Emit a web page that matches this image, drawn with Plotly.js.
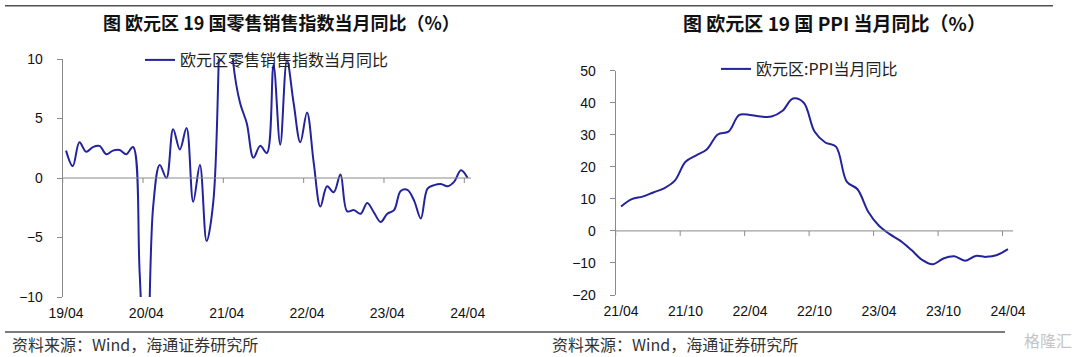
<!DOCTYPE html>
<html><head><meta charset="utf-8">
<script src="https://cdn.plot.ly/plotly-3.0.1.min.js"></script>
<style>html,body{margin:0;padding:0;background:#fff;}#chart{width:1080px;height:357px;}</style>
</head><body><div id="chart"></div>
<script>
// ---------- data ----------
const retailMonths = ['19/04','19/05','19/06','19/07','19/08','19/09','19/10','19/11','19/12',
  '20/01','20/02','20/03','20/04','20/05','20/06','20/07','20/08','20/09','20/10','20/11','20/12',
  '21/01','21/02','21/03','21/04','21/05','21/06','21/07','21/08','21/09','21/10','21/11','21/12',
  '22/01','22/02','22/03','22/04','22/05','22/06','22/07','22/08','22/09','22/10','22/11','22/12',
  '23/01','23/02','23/03','23/04','23/05','23/06','23/07','23/08','23/09','23/10','23/11','23/12',
  '24/01','24/02','24/03','24/04'];
const retailYoY = [2.3,1.0,3.0,2.2,2.6,2.7,2.0,2.3,2.35,
  2.0,2.6,-8.0,-19.6,-2.5,1.1,0.0,4.1,2.4,4.2,-2.0,1.1,
  -5.3,-2.0,13.0,24.0,9.6,6.3,4.6,1.7,2.7,2.1,9.5,2.8,
  9.9,6.3,3.0,5.5,1.3,-2.4,-0.7,-1.2,0.3,-2.8,-2.7,-3.0,
  -2.1,-2.9,-3.7,-3.0,-2.7,-1.1,-1.0,-1.9,-3.4,-0.9,-0.6,-0.5,
  -0.7,-0.3,0.65,0.0];
const retailTickLabels = ['19/04','20/04','21/04','22/04','23/04','24/04'];
const retailName = '欧元区零售销售指数当月同比';

const ppiMonths = ['21/04','21/05','21/06','21/07','21/08','21/09','21/10','21/11','21/12',
  '22/01','22/02','22/03','22/04','22/05','22/06','22/07','22/08','22/09','22/10','22/11','22/12',
  '23/01','23/02','23/03','23/04','23/05','23/06','23/07','23/08','23/09','23/10','23/11','23/12',
  '24/01','24/02','24/03','24/04'];
const ppiYoY = [7.6,9.9,10.7,12.0,13.3,15.7,21.6,23.6,25.5,
  30.1,31.0,36.2,36.2,35.7,35.7,37.4,41.3,40.0,31.0,27.6,26.3,
  15.4,13.0,6.0,1.6,-1.0,-3.1,-5.9,-9.0,-10.4,-8.6,-7.9,-9.3,
  -7.8,-8.1,-7.5,-5.7];
const ppiTickLabels = ['21/04','21/10','22/04','22/10','23/04','23/10','24/04'];
const ppiName = '欧元区:PPI当月同比';

const retailTitle = '图 欧元区 19 国零售销售指数当月同比（%）';
const ppiTitle = '图 欧元区 19 国 PPI 当月同比（%）';
const sourceText = '资料来源：Wind，海通证券研究所';

// ---------- layout helpers ----------
const W = 1080, H = 357;
const px = x => x / W, py = y => 1 - y / H;
const L = {x0: 62.7, x1: 471, y0: 59, y1: 297};
const R = {x0: 615.7, x1: 1013.3, y0: 70.7, y1: 295};
const lineColor = '#23239c';
const axisGray = '#8a8a8a';
const latin = 'Liberation Sans, Arial, sans-serif';
const cjk = 'Noto Sans CJK SC, Liberation Sans, sans-serif';
const tickFont = {family: latin, size: 14, color: '#111'};
const retailRange = [-10, 10], ppiRange = [-20, 50];
const lyDom = [py(L.y1), py(L.y0)], ryDom = [py(R.y1), py(R.y0)];
const bounds = (cats, labels) => labels.map(l => cats.indexOf(l) - 0.5);

const traces = [
  {x: retailMonths, y: retailYoY, type: 'scatter', mode: 'lines', name: retailName,
   line: {color: lineColor, width: 2, shape: 'spline', smoothing: 1},
   xaxis: 'x', yaxis: 'y', legend: 'legend'},
  {x: ppiMonths, y: ppiYoY, type: 'scatter', mode: 'lines', name: ppiName,
   line: {color: lineColor, width: 2, shape: 'spline', smoothing: 1},
   xaxis: 'x2', yaxis: 'y2', legend: 'legend2'}
];

const catAxis = (dom, n, labels, anchor) => ({
  domain: dom, type: 'category', range: [-0.5, n - 0.5], tickmode: 'array',
  tickvals: labels, ticktext: labels, ticks: '', showline: false, showgrid: false,
  zeroline: false, tickfont: tickFont, anchor: anchor, ticklabelstandoff: 6, fixedrange: true
});
const valAxis = (dom, rng, tv, anchor) => ({
  domain: dom, range: rng, tickmode: 'array', tickvals: tv, ticks: 'outside', ticklen: 5,
  tickcolor: axisGray, showline: true, linecolor: axisGray, linewidth: 1, showgrid: false,
  zeroline: false, tickfont: tickFont, anchor: anchor, ticklabelstandoff: 11, fixedrange: true
});

// zero-level horizontal axis line with downward tick marks at the period boundaries
function zeroAxisShapes(xr, yr, n, tv) {
  const s = [{type: 'line', xref: xr, yref: yr, x0: -0.5, x1: n - 0.5, y0: 0, y1: 0,
              line: {color: axisGray, width: 1}}];
  tv.forEach(b => s.push({type: 'line', xref: xr, yref: yr, x0: b, x1: b,
    ysizemode: 'pixel', yanchor: 0, y0: 0, y1: -5, line: {color: axisGray, width: 1}}));
  return s;
}

const layout = {
  width: W, height: H, autosize: false,
  margin: {l: 0, r: 0, t: 0, b: 0, pad: 0},
  paper_bgcolor: '#fff', plot_bgcolor: 'rgba(0,0,0,0)',
  showlegend: true,
  xaxis: catAxis([px(L.x0), px(L.x1)], retailMonths.length, retailTickLabels, 'y'),
  yaxis: valAxis(lyDom, retailRange, [-10, -5, 0, 5, 10], 'x'),
  xaxis2: catAxis([px(R.x0), px(R.x1)], ppiMonths.length, ppiTickLabels, 'y2'),
  yaxis2: valAxis(ryDom, ppiRange, [-20, -10, 0, 10, 20, 30, 40, 50], 'x2'),
  legend: {x: px(140), y: py(43), xanchor: 'left', yanchor: 'top', bgcolor: 'rgba(0,0,0,0)',
    font: {family: cjk, size: 16, color: '#222'}, itemwidth: 30, tracegroupgap: 0},
  legend2: {x: px(716), y: py(52), xanchor: 'left', yanchor: 'top', bgcolor: 'rgba(0,0,0,0)',
    font: {family: cjk, size: 16, color: '#222'}, itemwidth: 30, tracegroupgap: 0},
  shapes: [
    {type: 'line', xref: 'paper', yref: 'paper', x0: px(5), x1: px(1053), y0: py(5.7), y1: py(5.7),
     line: {color: '#505050', width: 1.4}},
    {type: 'line', xref: 'paper', yref: 'paper', x0: px(5), x1: px(1005), y0: py(332), y1: py(332),
     line: {color: '#505050', width: 1.4}}
  ].concat(
    zeroAxisShapes('x', 'y', retailMonths.length, bounds(retailMonths, retailTickLabels)),
    zeroAxisShapes('x2', 'y2', ppiMonths.length, bounds(ppiMonths, ppiTickLabels))
  ),
  annotations: [
    {text: '<b>' + retailTitle + '</b>', xref: 'paper', yref: 'paper', x: px(281), y: py(22),
     xanchor: 'center', yanchor: 'middle', showarrow: false,
     font: {family: cjk, size: 18, color: '#111'}},
    {text: '<b>' + ppiTitle + '</b>', xref: 'paper', yref: 'paper', x: px(834), y: py(22),
     xanchor: 'center', yanchor: 'middle', showarrow: false,
     font: {family: cjk, size: 19, color: '#111'}},
    {text: sourceText, xref: 'paper', yref: 'paper', x: px(10), y: py(344),
     xanchor: 'left', yanchor: 'middle', showarrow: false,
     font: {family: cjk, size: 16, color: '#333'}},
    {text: sourceText, xref: 'paper', yref: 'paper', x: px(550), y: py(344),
     xanchor: 'left', yanchor: 'middle', showarrow: false,
     font: {family: cjk, size: 16, color: '#333'}},
    {text: '格隆汇', xref: 'paper', yref: 'paper', x: px(1074), y: py(340),
     xanchor: 'right', yanchor: 'middle', showarrow: false,
     font: {family: cjk, size: 16, color: '#c4c4c4'}}
  ]
};

Plotly.newPlot('chart', traces, layout, {staticPlot: true, displayModeBar: false});
</script></body></html>
